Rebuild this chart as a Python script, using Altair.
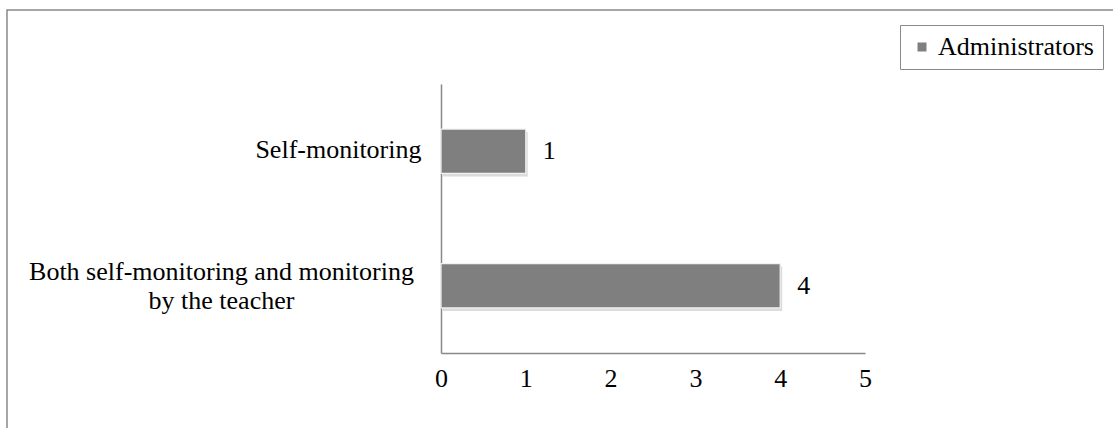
import altair as alt
import pandas as pd

# Responses of administrators about who monitors the learning
categories = ["Self-monitoring", "Both self-monitoring and monitoring|by the teacher"]
administrators = [1, 4]
x_ticks = [0, 1, 2, 3, 4, 5]
series_name = "Administrators"

df = pd.DataFrame({
    "category": categories,
    "value": administrators,
    "series": [series_name] * len(categories),
})

FONT = "Liberation Serif"
FS = 26
BAR = "#7f7f7f"
LINE = "#898989"

W, H = 424, 269
PAD = {"left": 441, "top": 84, "right": 1113 - 441 - W, "bottom": 428 - 84 - H}

# wrapped category labels: lines centred on each other, block right-aligned to the axis
is_wrapped = "indexof(datum.value, '|') >= 0"
y_enc = alt.Y(
    "category:N", sort=categories, title=None,
    scale=alt.Scale(paddingInner=0.67, paddingOuter=0.335),
    axis=alt.Axis(
        labelExpr="split(datum.label, '|')", labelFont=FONT,
        labelFontSize=FS, labelColor="black", labelLineHeight=29,
        labelLimit=0, ticks=False, domainColor=LINE, domainWidth=1.5,
        labelAlign={"condition": {"test": is_wrapped, "value": "center"}, "value": "right"},
        labelPadding={"condition": {"test": is_wrapped, "value": 220}, "value": 20},
        labelOffset={"condition": {"test": is_wrapped, "value": -14}, "value": -1},
    ),
)
x_enc = alt.X(
    "value:Q", title=None, scale=alt.Scale(domain=[0, 5], nice=False),
    axis=alt.Axis(values=x_ticks, ticks=False, grid=False, labelPadding=12,
                  labelFlush=False, labelFont=FONT, labelFontSize=FS,
                  labelColor="black", domainColor=LINE, domainWidth=1.5),
)

base = alt.Chart(df)

shadow = base.mark_bar(color="#c4c4c4", opacity=0.6, xOffset=2, yOffset=3).encode(
    x=x_enc, y=y_enc
)

bars = base.mark_bar(stroke="#f2f2f2", strokeWidth=1.2).encode(
    x=x_enc, y=y_enc,
    color=alt.Color(
        "series:N", scale=alt.Scale(range=[BAR]),
        legend=alt.Legend(title=None, orient="none", legendX=459, legendY=-59,
                          strokeColor=LINE, fillColor="white", padding=9,
                          labelOffset=3, symbolType="square", symbolSize=81,
                          symbolStrokeWidth=0, labelFont=FONT, labelFontSize=FS,
                          labelColor="black"),
    ),
)

labels = base.mark_text(align="left", baseline="middle", dx=17, font=FONT,
                        fontSize=FS, color="black").encode(
    x=x_enc, y=y_enc, text="value:Q"
)

frame = alt.Chart(alt.Data(values=[{}])).mark_rect(
    fill=None, stroke=LINE, strokeWidth=1.5
).encode(
    x=alt.value(7 - PAD["left"]), x2=alt.value(1125 - PAD["left"]),
    y=alt.value(10 - PAD["top"]), y2=alt.value(440 - PAD["top"]),
)

chart = alt.layer(frame, shadow, bars, labels).properties(
    width=W, height=H,
    autosize=alt.AutoSizeParams(type="none"),
    padding=PAD,
    background="white",
).configure_view(stroke=None)

chart.save("out.html", embed_options={"renderer": "svg", "actions": False})
